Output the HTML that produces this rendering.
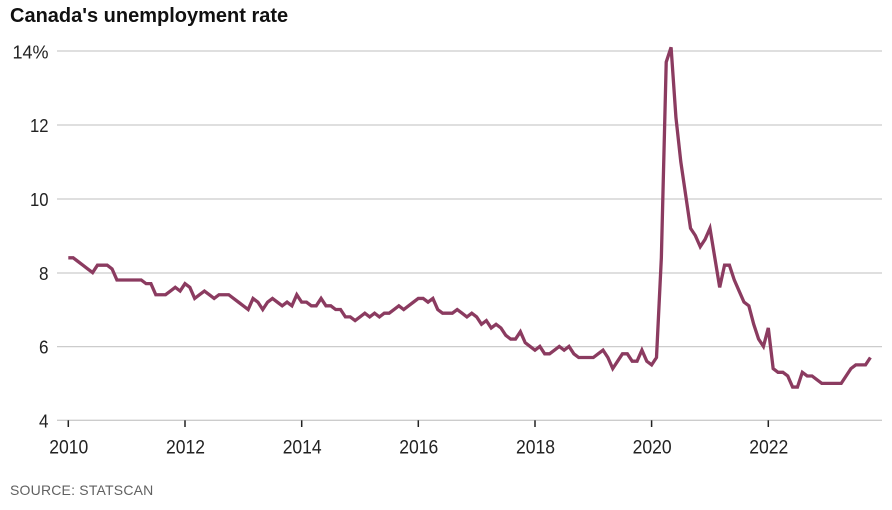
<!DOCTYPE html>
<html>
<head>
<meta charset="utf-8">
<style>
  html, body { margin: 0; padding: 0; background: #ffffff; }
  body { width: 892px; height: 510px; overflow: hidden; }
  svg { display: block; }
  text { font-family: "Liberation Sans", sans-serif; }
</style>
</head>
<body>
<svg width="892" height="510" viewBox="0 0 892 510" xmlns="http://www.w3.org/2000/svg">
  <rect x="0" y="0" width="892" height="510" fill="#ffffff"/>
  <!-- Title -->
  <text x="10" y="22" font-size="20" font-weight="bold" fill="#111111">Canada's unemployment rate</text>

  <!-- Gridlines -->
  <g stroke="#cccccc" stroke-width="1.3">
    <line x1="57" y1="51" x2="882" y2="51"/>
    <line x1="57" y1="125" x2="882" y2="125"/>
    <line x1="57" y1="199" x2="882" y2="199"/>
    <line x1="57" y1="273" x2="882" y2="273"/>
    <line x1="57" y1="346.6" x2="882" y2="346.6"/>
    <line x1="57" y1="420.3" x2="882" y2="420.3"/>
  </g>

  <!-- Y labels -->
  <g font-size="18.5" fill="#222222" text-anchor="end">
    <text x="48.5" y="58.5" textLength="36" lengthAdjust="spacingAndGlyphs">14%</text>
    <text x="48.5" y="132" textLength="18.5" lengthAdjust="spacingAndGlyphs">12</text>
    <text x="48.5" y="206" textLength="18.5" lengthAdjust="spacingAndGlyphs">10</text>
    <text x="48.5" y="280" textLength="9.5" lengthAdjust="spacingAndGlyphs">8</text>
    <text x="48.5" y="353.6" textLength="9.5" lengthAdjust="spacingAndGlyphs">6</text>
    <text x="48.5" y="427.5" textLength="9.5" lengthAdjust="spacingAndGlyphs">4</text>
  </g>

  <!-- X ticks -->
  <g stroke="#222222" stroke-width="1.5">
    <line x1="68.3" y1="420.3" x2="68.3" y2="427"/>
    <line x1="185" y1="420.3" x2="185" y2="427"/>
    <line x1="301.7" y1="420.3" x2="301.7" y2="427"/>
    <line x1="418.3" y1="420.3" x2="418.3" y2="427"/>
    <line x1="535" y1="420.3" x2="535" y2="427"/>
    <line x1="651.6" y1="420.3" x2="651.6" y2="427"/>
    <line x1="768.3" y1="420.3" x2="768.3" y2="427"/>
  </g>

  <!-- X labels -->
  <g font-size="19" fill="#222222" text-anchor="middle">
    <text x="68.8" y="453.3" textLength="39" lengthAdjust="spacingAndGlyphs">2010</text>
    <text x="185.5" y="453.3" textLength="39" lengthAdjust="spacingAndGlyphs">2012</text>
    <text x="302.2" y="453.3" textLength="39" lengthAdjust="spacingAndGlyphs">2014</text>
    <text x="418.8" y="453.3" textLength="39" lengthAdjust="spacingAndGlyphs">2016</text>
    <text x="535.5" y="453.3" textLength="39" lengthAdjust="spacingAndGlyphs">2018</text>
    <text x="652.1" y="453.3" textLength="39" lengthAdjust="spacingAndGlyphs">2020</text>
    <text x="768.8" y="453.3" textLength="39" lengthAdjust="spacingAndGlyphs">2022</text>
  </g>

  <!-- Series -->
  <g transform="translate(68.3,420.3) scale(4.8611,-36.93) translate(0,-4)">
    <polyline fill="none" stroke="#8b3b60" stroke-width="3.3" vector-effect="non-scaling-stroke" stroke-linejoin="miter" stroke-miterlimit="4" stroke-linecap="butt"
      points="0,8.4 1,8.4 2,8.3 3,8.2 4,8.1 5,8.0 6,8.2 7,8.2 8,8.2 9,8.1 10,7.8 11,7.8 12,7.8 13,7.8 14,7.8 15,7.8 16,7.7 17,7.7 18,7.4 19,7.4 20,7.4 21,7.5 22,7.6 23,7.5 24,7.7 25,7.6 26,7.3 27,7.4 28,7.5 29,7.4 30,7.3 31,7.4 32,7.4 33,7.4 34,7.3 35,7.2 36,7.1 37,7.0 38,7.3 39,7.2 40,7.0 41,7.2 42,7.3 43,7.2 44,7.1 45,7.2 46,7.1 47,7.4 48,7.2 49,7.2 50,7.1 51,7.1 52,7.3 53,7.1 54,7.1 55,7.0 56,7.0 57,6.8 58,6.8 59,6.7 60,6.8 61,6.9 62,6.8 63,6.9 64,6.8 65,6.9 66,6.9 67,7.0 68,7.1 69,7.0 70,7.1 71,7.2 72,7.3 73,7.3 74,7.2 75,7.3 76,7.0 77,6.9 78,6.9 79,6.9 80,7.0 81,6.9 82,6.8 83,6.9 84,6.8 85,6.6 86,6.7 87,6.5 88,6.6 89,6.5 90,6.3 91,6.2 92,6.2 93,6.4 94,6.1 95,6.0 96,5.9 97,6.0 98,5.8 99,5.8 100,5.9 101,6.0 102,5.9 103,6.0 104,5.8 105,5.7 106,5.7 107,5.7 108,5.7 109,5.8 110,5.9 111,5.7 112,5.4 113,5.6 114,5.8 115,5.8 116,5.6 117,5.6 118,5.9 119,5.6 120,5.5 121,5.7 122,8.4 123,13.7 124,14.1 125,12.2 126,11.0 127,10.1 128,9.2 129,9.0 130,8.7 131,8.9 132,9.2 133,8.4 134,7.6 135,8.2 136,8.2 137,7.8 138,7.5 139,7.2 140,7.1 141,6.6 142,6.2 143,6.0 144,6.5 145,5.4 146,5.3 147,5.3 148,5.2 149,4.9 150,4.9 151,5.3 152,5.2 153,5.2 154,5.1 155,5.0 156,5.0 157,5.0 158,5.0 159,5.0 160,5.2 161,5.4 162,5.5 163,5.5 164,5.5 165,5.7"/>
  </g>

  <!-- Source -->
  <text x="10" y="495" font-size="14" fill="#616161" letter-spacing="0.2">SOURCE: STATSCAN</text>
</svg>
</body>
</html>
